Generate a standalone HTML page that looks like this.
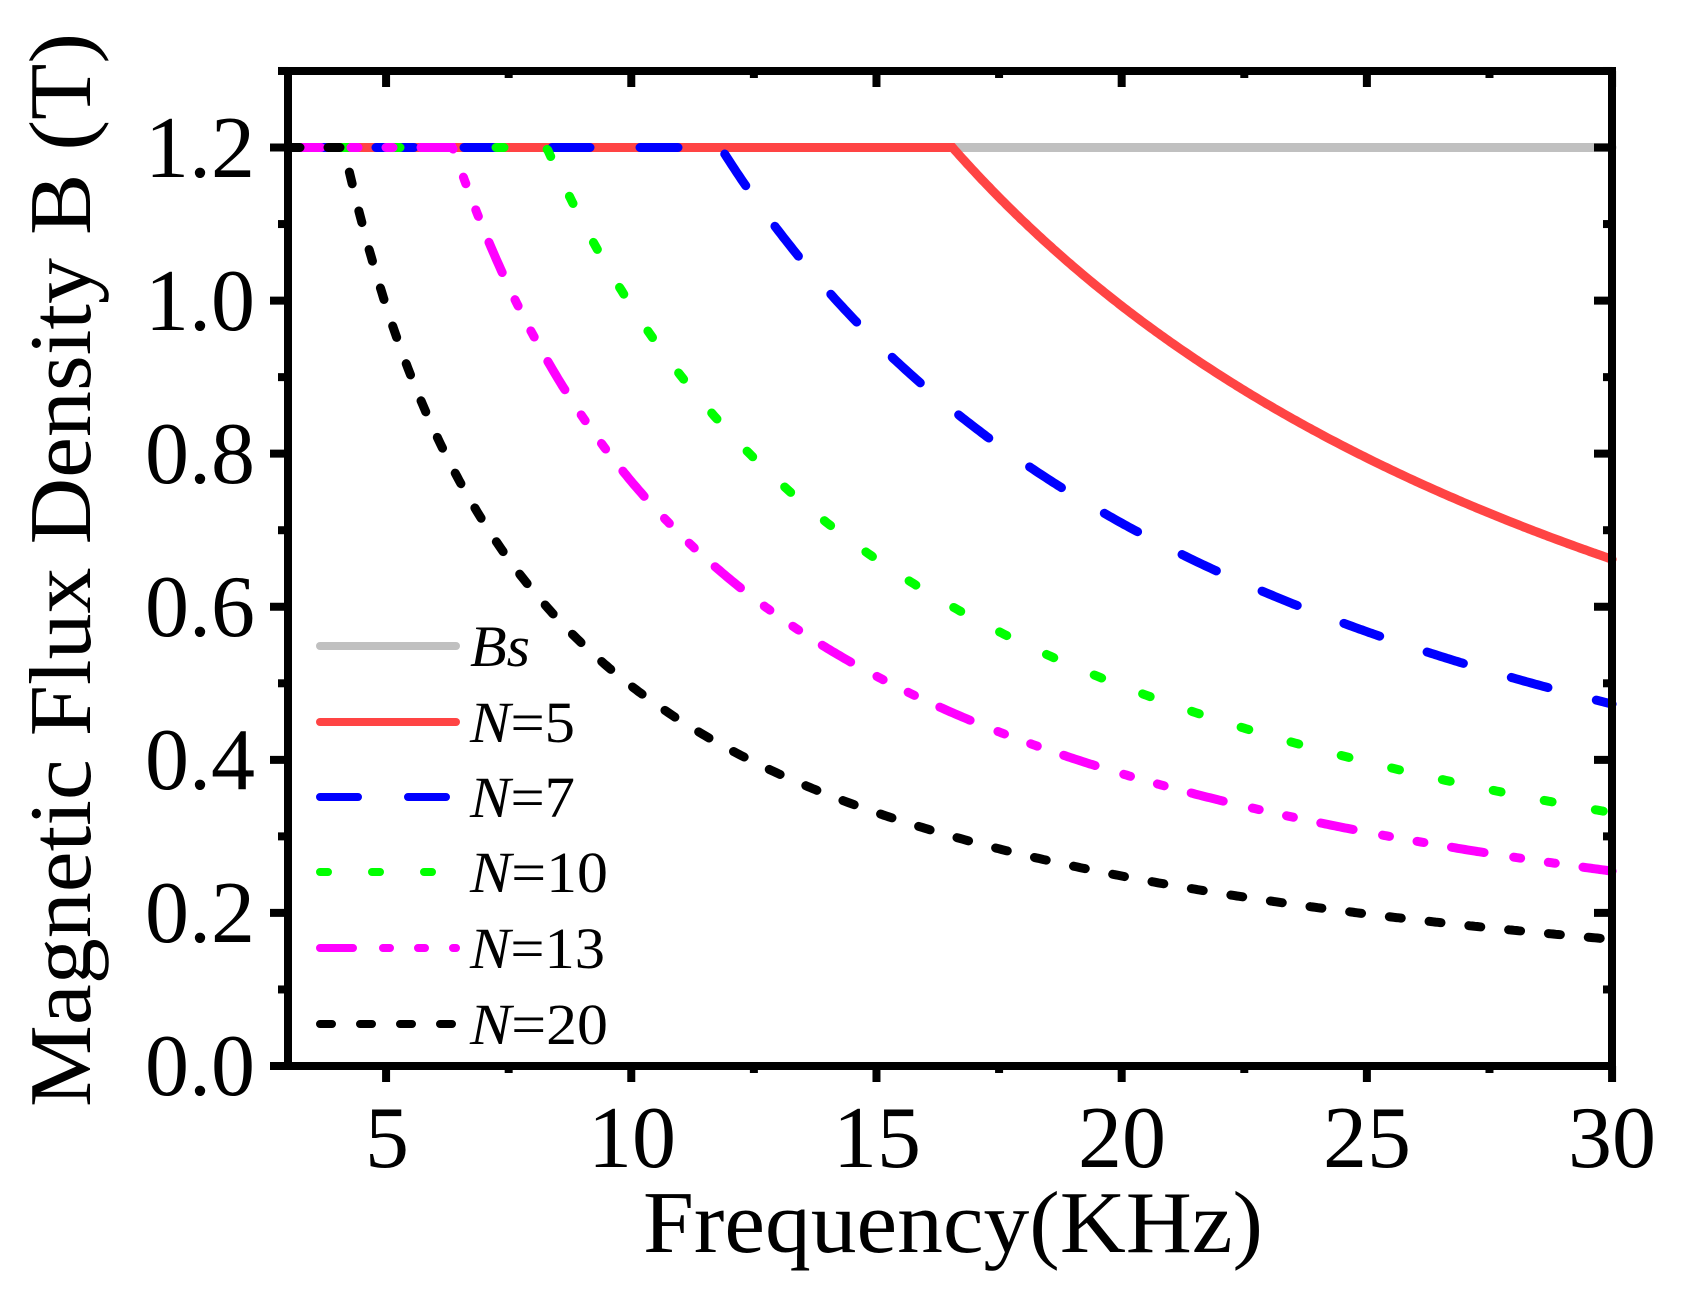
<!DOCTYPE html>
<html><head><meta charset="utf-8"><style>
html,body{margin:0;padding:0;background:#fff;}
svg{display:block;}
text{font-family:"Liberation Serif",serif;fill:#000;}
</style></head><body>
<svg id="s" width="1684" height="1295" viewBox="0 0 1684 1295" xmlns="http://www.w3.org/2000/svg">
<g id="curves" fill="none" stroke-width="9" stroke-linecap="round"></g>
<g id="ticks" stroke="#000" stroke-width="8"></g>
<rect x="288" y="71" width="1324" height="995" fill="none" stroke="#000" stroke-width="8"/>
<g font-size="88" text-anchor="end">
<text x="255" y="1095">0.0</text>
<text x="255" y="942">0.2</text>
<text x="255" y="789">0.4</text>
<text x="255" y="636">0.6</text>
<text x="255" y="483">0.8</text>
<text x="255" y="330">1.0</text>
<text x="255" y="177">1.2</text>
</g>
<g font-size="88" text-anchor="middle">
<text x="387" y="1167">5</text>
<text x="632" y="1167">10</text>
<text x="877" y="1167">15</text>
<text x="1122" y="1167">20</text>
<text x="1367" y="1167">25</text>
<text x="1612" y="1167">30</text>
</g>
<text x="643" y="1252" font-size="88" textLength="620" lengthAdjust="spacingAndGlyphs">Frequency(KHz)</text>
<text transform="translate(90,1107) rotate(-90)" font-size="88" textLength="1074" lengthAdjust="spacingAndGlyphs">Magnetic Flux Density B (T)</text>
<g stroke-width="8" stroke-linecap="round" fill="none">
<line x1="320" y1="646" x2="456" y2="646" stroke="#c0c0c0"/>
<line x1="320" y1="722" x2="456" y2="722" stroke="#ff4444"/>
<line x1="320" y1="797" x2="456" y2="797" stroke="#0000ff" stroke-dasharray="38 50"/>
<line x1="320" y1="872" x2="456" y2="872" stroke="#00ff00" stroke-dasharray="8 44"/>
<line x1="320" y1="948" x2="456" y2="948" stroke="#ff00ff" stroke-dasharray="33 30 7 28 7 28"/>
<line x1="320" y1="1024" x2="456" y2="1024" stroke="#000" stroke-dasharray="12 28"/>
</g>
<g font-size="58">
<text x="470" y="666" font-style="italic" textLength="60" lengthAdjust="spacingAndGlyphs">Bs</text>
<text x="470" y="742" textLength="105" lengthAdjust="spacingAndGlyphs"><tspan font-style="italic">N</tspan>=5</text>
<text x="470" y="817" textLength="105" lengthAdjust="spacingAndGlyphs"><tspan font-style="italic">N</tspan>=7</text>
<text x="470" y="892" textLength="138" lengthAdjust="spacingAndGlyphs"><tspan font-style="italic">N</tspan>=10</text>
<text x="470" y="968" textLength="135" lengthAdjust="spacingAndGlyphs"><tspan font-style="italic">N</tspan>=13</text>
<text x="470" y="1044" textLength="138" lengthAdjust="spacingAndGlyphs"><tspan font-style="italic">N</tspan>=20</text>
</g>
</svg>
<script>
(function(){
var ns="http://www.w3.org/2000/svg";
function X(f){return 288+(f-3)*49.04;}
function Y(b){return 1066-b*765.4;}
var cg=document.getElementById('curves');
function path(d,color,dash){var p=document.createElementNS(ns,'path');p.setAttribute('d',d);p.setAttribute('stroke',color);if(dash)p.setAttribute('stroke-dasharray',dash);cg.appendChild(p);}
path('M288 '+Y(1.2)+' L1612 '+Y(1.2),'#c0c0c0');
var series=[[5,'#ff4444',null],[7,'#0000ff','38 50'],[10,'#00ff00','8 44'],[13,'#ff00ff','33 30 7 28 7 28'],[20,'#000','12 28']];
series.forEach(function(s){
 var d='';
 for(var f=3;f<=30.0001;f+=0.05){
  var b=Math.min(1.2,99.3/(s[0]*f));
  d+=(d?' L':'M')+X(f).toFixed(1)+' '+Y(b).toFixed(1);
 }
 path(d,s[1],s[2]);
});
var tg=document.getElementById('ticks');
function ln(x1,y1,x2,y2){var l=document.createElementNS(ns,'line');l.setAttribute('x1',x1);l.setAttribute('y1',y1);l.setAttribute('x2',x2);l.setAttribute('y2',y2);tg.appendChild(l);}
for(var f=5;f<=30;f+=2.5){var x=X(f);var maj=(f%5===0);
 ln(x,1066,x,maj?1082:1073);
 ln(x,71,x,maj?87:78);}
for(var i=0;i<=13;i++){var b=i*0.1;var y=Y(b);var maj=(i%2===0);
 ln(288,y,maj?270:278,y);
 ln(1612,y,maj?1594:1603,y);}
})();
</script>
</body></html>
